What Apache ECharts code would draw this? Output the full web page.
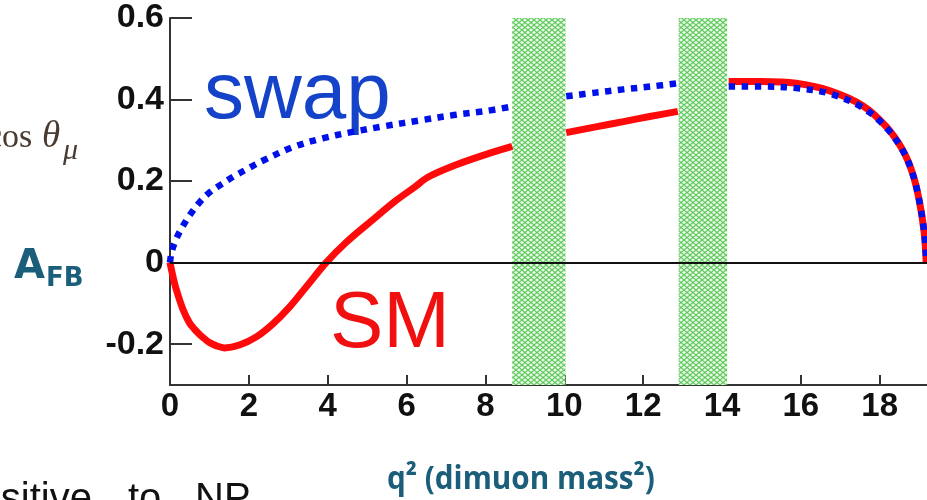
<!DOCTYPE html>
<html>
<head>
<meta charset="utf-8">
<script src="https://cdn.jsdelivr.net/npm/echarts@6/dist/echarts.min.js"></script>
<style>
html,body{margin:0;padding:0;background:#fff;}
#chart{width:927px;height:500px;}
</style>
</head>
<body>
<div id="chart"></div>
<script>
// ---- data ----
const xTicks = [0, 2, 4, 6, 8, 10, 12, 14, 16, 18];
const yTicks = [-0.2, 0, 0.2, 0.4, 0.6];

// SM prediction (red solid), three segments separated by the charmonium vetoes
const smQ1 = [0, 0.08, 0.16, 0.33, 0.49, 0.62, 0.75, 0.88, 1.0, 1.18, 1.38, 1.76, 2.19, 2.61, 3.03, 3.45, 3.96, 4.47, 5.14, 5.7, 6.2, 6.55, 7.26, 8.0, 8.68];
const smA1 = [0, -0.036, -0.066, -0.115, -0.147, -0.163, -0.176, -0.187, -0.196, -0.204, -0.209, -0.202, -0.182, -0.15, -0.109, -0.06, 0, 0.05, 0.105, 0.15, 0.185, 0.21, 0.24, 0.265, 0.285];
const smQ2 = [10.05, 10.8, 11.5, 12.2, 12.88];
const smA2 = [0.319, 0.333, 0.346, 0.359, 0.371];
const smQ3 = [14.17, 15.0, 15.88, 16.72, 17.57, 18.16, 18.58, 18.83, 19.0, 19.13, 19.18];
const smA3 = [0.444, 0.444, 0.44, 0.422, 0.385, 0.334, 0.277, 0.22, 0.154, 0.073, 0.0];

// "swap" scenario (blue dotted)
const swQ1 = [0, 0.04, 0.157, 0.3, 0.49, 0.75, 1.0, 1.3, 1.59, 2.0, 2.35, 3.11, 3.87, 4.6, 5.4, 6.41, 7.2, 8.02, 8.68];
const swA1 = [0, 0.026, 0.058, 0.085, 0.115, 0.148, 0.172, 0.192, 0.21, 0.232, 0.25, 0.283, 0.305, 0.32, 0.334, 0.35, 0.362, 0.372, 0.383];
const swQ2 = [10.05, 10.8, 11.5, 12.2, 12.9];
const swA2 = [0.408, 0.417, 0.425, 0.432, 0.44];
const swQ3 = [14.17, 15.0, 15.88, 16.72, 17.57, 18.16, 18.58, 18.83, 19.0, 19.13, 19.18];
const swA3 = [0.432, 0.432, 0.428, 0.415, 0.38, 0.332, 0.276, 0.22, 0.154, 0.073, 0.0];

// vetoed q^2 regions (J/psi, psi(2S))
const vetoBands = [[8.68, 10.03], [12.9, 14.13]];

const xMin = 0, xMax = 19.2;
const yMin = -0.3, yMax = 0.6;

// ---- build series data (gaps between segments) ----
function segs(qs, as) {
  const out = [];
  qs.forEach((q, i) => {
    if (i > 0) out.push([(q[0] + qs[i - 1][qs[i - 1].length - 1]) / 2, '-']);
    q.forEach((x, j) => out.push([x, as[i][j]]));
  });
  return out;
}
const smData = segs([smQ1, smQ2, smQ3], [smA1, smA2, smA3]);
const swData = segs([swQ1, swQ2, swQ3], [swA1, swA2, swA3]);

function makeHatch() {
  const c = document.createElement('canvas');
  c.width = 6; c.height = 5;
  const g = c.getContext('2d');
  g.fillStyle = '#e8f8e4';
  g.fillRect(0, 0, 6, 5);
  g.strokeStyle = '#5cc85c';
  g.lineWidth = 1.1;
  g.beginPath();
  g.moveTo(0, 0); g.lineTo(6, 5);
  g.moveTo(0, 5); g.lineTo(6, 0);
  g.stroke();
  return c;
}
const hatch = { image: makeHatch(), repeat: 'repeat' };

const chart = echarts.init(document.getElementById('chart'), null, { renderer: 'canvas' });
const tickFontX = { fontFamily: 'Liberation Sans, Arial, sans-serif', fontWeight: 'bold', fontSize: 33, color: '#111' };
const tickFontY = { fontFamily: 'Liberation Sans, Arial, sans-serif', fontWeight: 'bold', fontSize: 34, color: '#111' };

chart.setOption({
  animation: false,
  backgroundColor: '#fff',
  grid: { left: 170, right: 0, top: 18, bottom: 115 },
  xAxis: [{
    type: 'value', min: xMin, max: xMax, interval: 2,
    axisLine: { show: true, onZero: false, lineStyle: { color: '#333', width: 2 } },
    axisTick: { show: true, inside: true, length: 10, lineStyle: { color: '#333', width: 2 }, customValues: xTicks },
    axisLabel: Object.assign({ margin: 5, customValues: xTicks }, tickFontX),
    splitLine: { show: false }
  }, {
    type: 'value', min: xMin, max: xMax, position: 'top',
    axisLine: { show: true, lineStyle: { color: '#444', width: 2 } },
    axisTick: { show: false }, axisLabel: { show: false }, splitLine: { show: false }
  }],
  yAxis: {
    type: 'value', min: yMin, max: yMax,
    axisLine: { show: true, onZero: false, lineStyle: { color: '#333', width: 2 } },
    axisTick: { show: true, inside: true, length: 22, lineStyle: { color: '#333', width: 2 }, customValues: yTicks },
    axisLabel: Object.assign({ margin: 6, customValues: yTicks }, tickFontY),
    splitLine: { show: false }
  },
  series: [{
    type: 'line', name: 'SM', data: smData, showSymbol: false, smooth: 0.35,
    connectNulls: false,
    lineStyle: { color: '#ff0a0a', width: 7 },
    z: 3,
    markArea: {
      silent: true,
      itemStyle: { color: hatch },
      data: vetoBands.map(b => [{ xAxis: b[0] }, { xAxis: b[1] }])
    },
    markLine: {
      silent: true, symbol: ['none', 'none'], label: { show: false },
      lineStyle: { color: '#111', width: 2, type: 'solid' },
      data: [{ yAxis: 0 }]
    }
  }, {
    type: 'line', name: 'swap', data: swData, showSymbol: false, smooth: 0.35,
    connectNulls: false,
    lineStyle: { color: '#0010e8', width: 6.5, type: [6.5, 6.5], cap: 'butt' },
    z: 4
  }],
  graphic: [
    { type: 'text', left: 204, top: 56, style: { text: 'swap', font: '80px "Liberation Sans", Arial, sans-serif', fill: '#1442c8' } },
    { type: 'text', left: 330, top: 285, style: { text: 'SM', font: '80px "Liberation Sans", Arial, sans-serif', fill: '#f01010' } },
    { type: 'text', left: -13, top: 121, style: { text: 'cos', font: '34px "Liberation Serif", serif', fill: '#4a3b30' } },
    { type: 'text', left: 42, top: 119, style: { text: 'θ', font: 'italic 37px "Liberation Serif", serif', fill: '#4a3b30' } },
    { type: 'text', left: 63, top: 136, style: { text: 'μ', font: 'italic 30px "Liberation Serif", serif', fill: '#4a3b30' } },
    { type: 'text', left: 14, top: 248, style: { text: 'A', font: 'bold 40px "DejaVu Sans", sans-serif', fill: '#1b5e7a' } },
    { type: 'text', left: 46, top: 266, style: { text: 'FB', font: 'bold 26px "DejaVu Sans", sans-serif', fill: '#1b5e7a' } },
    { type: 'text', x: 387, y: 463, scaleX: 0.9, style: { text: 'q² (dimuon mass²)', font: 'bold 33px "Open Sans", sans-serif', fill: '#1b5e7a' } },
    { type: 'text', right: 835, top: 480, style: { text: 'Sensitive', font: '40px "Liberation Sans", Arial, sans-serif', fill: '#111' } },
    { type: 'text', left: 128, top: 480, style: { text: 'to', font: '40px "Liberation Sans", Arial, sans-serif', fill: '#111' } },
    { type: 'text', left: 195, top: 480, style: { text: 'NP', font: '40px "Liberation Sans", Arial, sans-serif', fill: '#111' } }
  ]
});
</script>
</body>
</html>
